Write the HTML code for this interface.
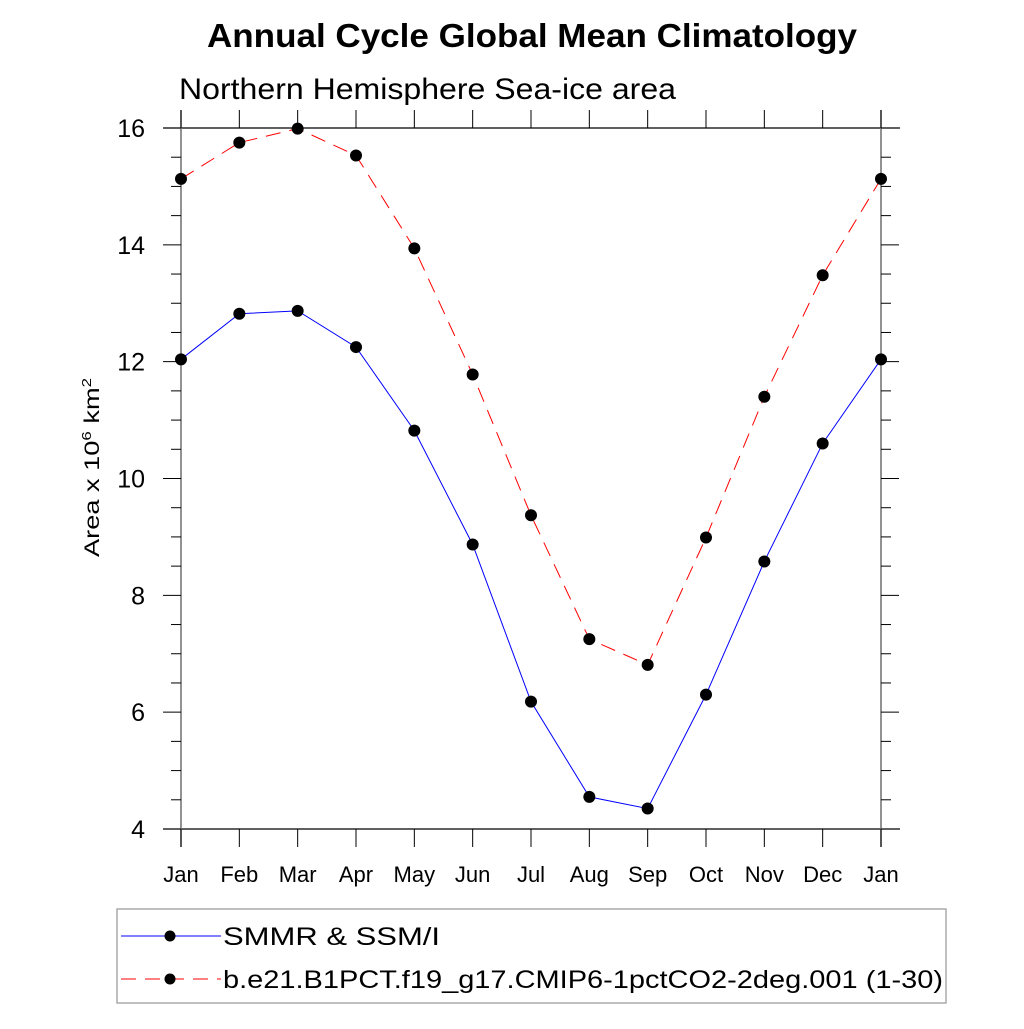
<!DOCTYPE html>
<html><head><meta charset="utf-8"><style>
body{margin:0;background:#fff}
svg text{font-family:"Liberation Sans",sans-serif;fill:#000}
</style></head><body>
<svg id="chart" width="1024" height="1024" xmlns="http://www.w3.org/2000/svg">
<text x="207" y="47" font-size="33" font-weight="bold" textLength="650" lengthAdjust="spacingAndGlyphs">Annual Cycle Global Mean Climatology</text>
<text x="179" y="99" font-size="30" textLength="497" lengthAdjust="spacingAndGlyphs">Northern Hemisphere Sea-ice area</text>
<text transform="translate(99,557) rotate(-90)" font-size="21" textLength="179" lengthAdjust="spacingAndGlyphs">Area x 10<tspan dy="-8" font-size="13">6</tspan><tspan dy="8"> km</tspan><tspan dy="-8" font-size="13">2</tspan></text>
<g id="axes"></g>
<g id="series"></g>
<rect x="117" y="909" width="829" height="94" fill="none" stroke="#aaa" stroke-width="1.5"/>
<g>
<line x1="121" y1="936" x2="221" y2="936" stroke="#0000ff" stroke-width="1"/>
<circle cx="170" cy="936" r="5.5" fill="#000"/>
<text x="223" y="945" font-size="25" textLength="217" lengthAdjust="spacingAndGlyphs">SMMR &amp; SSM/I</text>
</g>
<g>
<line x1="121" y1="979" x2="221" y2="979" stroke="#ff0000" stroke-width="1" stroke-dasharray="15,9"/>
<circle cx="170" cy="979" r="5.5" fill="#000"/>
<text x="223" y="988" font-size="25" textLength="720" lengthAdjust="spacingAndGlyphs">b.e21.B1PCT.f19_g17.CMIP6-1pctCO2-2deg.001 (1-30)</text>
</g>
</svg>
<script>
const months=["Jan","Feb","Mar","Apr","May","Jun","Jul","Aug","Sep","Oct","Nov","Dec","Jan"];
const obsValues=[12.04,12.82,12.87,12.25,10.82,8.87,6.18,4.55,4.35,6.30,8.58,10.60,12.04];
const modelValues=[15.13,15.75,15.99,15.53,13.94,11.78,9.37,7.25,6.81,8.99,11.40,13.48,15.13];
const yTicks=[4,6,8,10,12,14,16];
const ns="http://www.w3.org/2000/svg";
const X0=181,X1=881,Y0=829,Y1=128,ymin=4,ymax=16;
function xs(i){return X0+(X1-X0)*i/(months.length-1);}
function ys(v){return Y0-(v-ymin)/(ymax-ymin)*(Y0-Y1);}
function mk(tag,attrs,parent){const e=document.createElementNS(ns,tag);for(const k in attrs)e.setAttribute(k,attrs[k]);parent.appendChild(e);return e;}
const ax=document.getElementById('axes');
let e;
e=mk('line',{x1:163,y1:Y1,x2:900,y2:Y1,stroke:'#000','stroke-width':1.3},ax);


e=mk('line',{x1:163,y1:Y0,x2:900,y2:Y0,stroke:'#000','stroke-width':1.3},ax);


e=mk('line',{x1:X0,y1:110,x2:X0,y2:847,stroke:'#777','stroke-width':1.6},ax);


e=mk('line',{x1:X1,y1:110,x2:X1,y2:847,stroke:'#777','stroke-width':1.6},ax);


months.forEach((m,i)=>{const x=xs(i);
 mk('line',{x1:x,y1:110,x2:x,y2:Y1,stroke:'#000','stroke-width':1},ax);
 mk('line',{x1:x,y1:Y0,x2:x,y2:847,stroke:'#000','stroke-width':1},ax);
 const t=mk('text',{x:x,y:882,'font-size':22,'text-anchor':'middle'},ax);t.textContent=m;
 
 
});
for(let v=ymin;v<=ymax;v+=0.5){const y=ys(v);const major=Math.abs(v%2)<1e-9;const L=major?18:10;
 mk('line',{x1:X0-L,y1:y,x2:X0,y2:y,stroke:'#000','stroke-width':1},ax);
 mk('line',{x1:X1,y1:y,x2:X1+L,y2:y,stroke:'#000','stroke-width':1},ax);}
yTicks.forEach(v=>{const t=mk('text',{x:145,y:ys(v)+9,'font-size':25,'text-anchor':'end'},ax);t.textContent=v;
 
 });
const sg=document.getElementById('series');
function series(vals,color,dash,name){
 const p=mk('polyline',{points:vals.map((v,i)=>xs(i)+','+ys(v)).join(' '),fill:'none',stroke:color,'stroke-width':1,'stroke-dasharray':dash},sg);
 
 
 vals.forEach((v,i)=>{const c=mk('circle',{cx:xs(i),cy:ys(v),r:6,fill:'#000'},sg);
  
  });
}
series(modelValues,'#ff0000','15,9','model');
series(obsValues,'#0000ff','none','obs');
</script>
</body></html>
